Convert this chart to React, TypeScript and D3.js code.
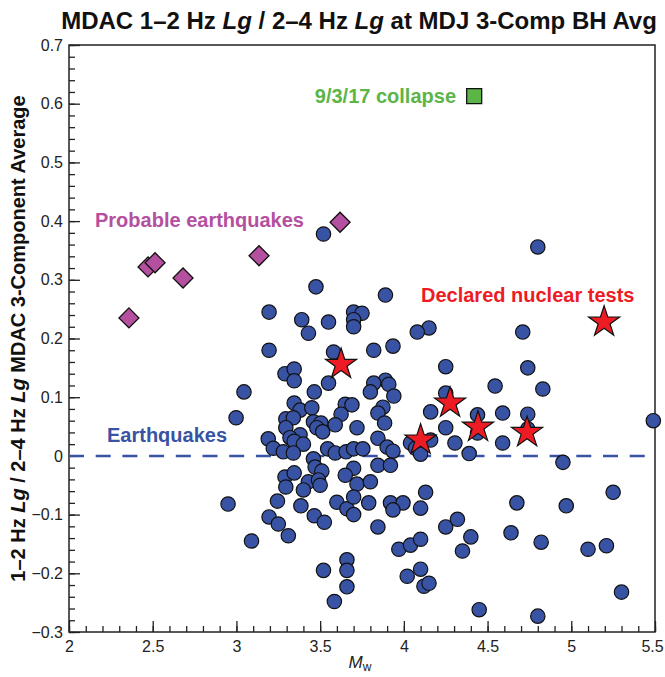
import React, { useEffect, useRef } from 'react';
import * as d3 from 'd3';

// [Mw, 1-2 Hz Lg / 2-4 Hz Lg ratio]
const earthquakes: [number, number][] = [
  [3.52, 0.378], [4.8, 0.356], [3.475, 0.288], [3.89, 0.274], [3.195, 0.245],
  [3.7, 0.245], [3.75, 0.243], [3.39, 0.232], [3.55, 0.228], [3.7, 0.232],
  [3.7, 0.22], [4.15, 0.218], [3.43, 0.209], [4.08, 0.211], [4.71, 0.211],
  [3.195, 0.18], [3.58, 0.177], [3.82, 0.18], [3.935, 0.187], [4.25, 0.152],
  [4.74, 0.15], [3.29, 0.14], [3.345, 0.148], [3.345, 0.128], [3.55, 0.124],
  [3.465, 0.109], [3.045, 0.109], [4.545, 0.119], [4.83, 0.114], [3.89, 0.129],
  [3.82, 0.124], [3.91, 0.122], [3.8, 0.109], [3.94, 0.102], [4.25, 0.107],
  [3.345, 0.09], [3.38, 0.078], [3.45, 0.082], [3.65, 0.088], [3.69, 0.087],
  [3.625, 0.071], [3.875, 0.083], [3.845, 0.073], [4.16, 0.075], [4.44, 0.07],
  [4.59, 0.073], [4.74, 0.071], [2.998, 0.065], [3.295, 0.063], [3.34, 0.065],
  [3.295, 0.048], [3.46, 0.058], [3.505, 0.056], [3.48, 0.048], [3.515, 0.041],
  [3.59, 0.053], [3.72, 0.048], [3.885, 0.056], [4.25, 0.048], [4.74, 0.046],
  [4.44, 0.039], [5.49, 0.06], [3.38, 0.036], [3.32, 0.031], [3.345, 0.025],
  [3.4, 0.02], [3.19, 0.029], [3.22, 0.013], [3.28, 0.007], [3.34, 0.005],
  [3.46, -0.005], [3.545, 0.012], [3.59, 0.005], [3.655, 0.007], [3.7, 0.012],
  [3.755, 0.012], [3.845, 0.03], [3.9, 0.015], [3.935, 0.008], [4.04, 0.022],
  [4.07, 0.013], [4.1, 0.003], [4.16, 0.027], [4.305, 0.022], [4.39, 0.004],
  [4.59, 0.022], [4.95, -0.011], [3.47, -0.019], [3.51, -0.026], [3.7, -0.021],
  [3.845, -0.016], [3.92, -0.016], [3.65, -0.033], [3.29, -0.036], [3.345, -0.029],
  [3.43, -0.044], [3.49, -0.041], [3.5, -0.05], [3.295, -0.053], [3.4, -0.058],
  [3.72, -0.048], [3.8, -0.044], [3.245, -0.077], [3.385, -0.085], [3.6, -0.079],
  [3.66, -0.09], [3.7, -0.07], [3.7, -0.1], [3.79, -0.08], [3.92, -0.08],
  [3.995, -0.08], [3.935, -0.092], [4.13, -0.062], [4.1, -0.089], [4.675, -0.08],
  [4.97, -0.085], [5.25, -0.062], [2.95, -0.082], [3.09, -0.145], [3.195, -0.104],
  [3.25, -0.116], [3.31, -0.136], [3.465, -0.102], [3.525, -0.113], [3.845, -0.121],
  [4.25, -0.121], [4.32, -0.108], [4.4, -0.138], [4.35, -0.162], [4.64, -0.131],
  [4.82, -0.147], [5.1, -0.159], [5.21, -0.153], [3.97, -0.159], [4.04, -0.152],
  [4.1, -0.142], [4.02, -0.205], [4.1, -0.193], [4.12, -0.222], [4.15, -0.217],
  [3.52, -0.195], [3.66, -0.177], [3.66, -0.195], [3.66, -0.223], [3.585, -0.248],
  [5.3, -0.232], [4.45, -0.262], [4.8, -0.273]
];

const probableEarthquakes: [number, number][] = [
  [2.358, 0.235], [2.472, 0.322], [2.514, 0.329], [2.681, 0.303], [3.135, 0.341], [3.619, 0.398]
];

const nuclearTests: [number, number][] = [
  [3.625, 0.156], [4.1, 0.027], [4.276, 0.09], [4.443, 0.049], [4.736, 0.04], [5.196, 0.228]
];

const collapse: [number, number][] = [[4.42, 0.613]];

const xTicks = [2, 2.5, 3, 3.5, 4, 4.5, 5, 5.5];
const yTicks = [0.7, 0.6, 0.5, 0.4, 0.3, 0.2, 0.1, 0, -0.1, -0.2, -0.3];

const titleParts: [string, boolean][] = [
  ['MDAC 1\u20132 Hz ', false], ['Lg', true], [' / 2\u20134 Hz ', false], ['Lg', true], [' at MDJ 3-Comp BH Avg', false]
];
const yLabelParts: [string, boolean][] = [
  ['1\u20132 Hz ', false], ['Lg', true], [' / 2\u20134 Hz ', false], ['Lg', true], [' MDAC 3-Component Average', false]
];

const W = 665;
const H = 677;
const margin = { top: 45, right: 10, bottom: 45, left: 69 };
const FONT = "'Liberation Sans', Arial, Helvetica, sans-serif";

const BLUE = '#3953a4';
const MAGENTA = '#b4509f';
const RED = '#ed1c24';
const GREEN = '#5cb547';

function addParts(sel: any, parts: [string, boolean][]) {
  parts.forEach(([t, it]) => {
    sel.append('tspan').attr('font-style', it ? 'italic' : null).text(t);
  });
}

export default function App() {
  const ref = useRef<SVGSVGElement>(null);

  useEffect(() => {
    const svg = d3.select(ref.current);
    svg.selectAll('*').remove();

    const x = d3.scaleLinear().domain([2, 5.5]).range([margin.left, W - margin.right]);
    const y = d3.scaleLinear().domain([-0.3, 0.7]).range([H - margin.bottom, margin.top]);
    const fmt = d3.format('~g');
    const label = (d: number) => fmt(d).replace('-', '\u2212');

    // title
    const title = svg.append('text')
      .attr('x', 359).attr('y', 29)
      .attr('text-anchor', 'middle')
      .attr('font-family', FONT).attr('font-weight', 'bold').attr('font-size', 24)
      .attr('fill', '#111');
    addParts(title, titleParts);

    // y label
    const yl = svg.append('text')
      .attr('transform', `translate(25,${(margin.top + H - margin.bottom) / 2}) rotate(-90)`)
      .attr('text-anchor', 'middle')
      .attr('font-family', FONT).attr('font-weight', 'bold').attr('font-size', 20)
      .attr('fill', '#111');
    addParts(yl, yLabelParts);

    // x label
    const xl = svg.append('text')
      .attr('x', 360).attr('y', 668)
      .attr('text-anchor', 'middle')
      .attr('font-family', FONT).attr('font-size', 17).attr('fill', '#222');
    xl.append('tspan').attr('font-style', 'italic').text('M');
    xl.append('tspan').attr('font-size', 12).attr('dy', 3).text('w');

    // axes: minor ticks
    const xMinor = d3.range(20, 56).map(d => d / 10);
    const yMinor = d3.range(-15, 36).map(d => d / 50);
    const gxMinor = svg.append('g')
      .attr('transform', `translate(0,${H - margin.bottom})`)
      .call(d3.axisBottom(x).tickValues(xMinor).tickSize(-6).tickFormat(() => ''));
    const gyMinor = svg.append('g')
      .attr('transform', `translate(${margin.left},0)`)
      .call(d3.axisLeft(y).tickValues(yMinor).tickSize(-6).tickFormat(() => ''));

    const gx = svg.append('g')
      .attr('transform', `translate(0,${H - margin.bottom})`)
      .call(d3.axisBottom(x).tickValues(xTicks).tickSize(-11).tickPadding(9).tickFormat(label as any));
    const gy = svg.append('g')
      .attr('transform', `translate(${margin.left},0)`)
      .call(d3.axisLeft(y).tickValues(yTicks).tickSize(-11).tickPadding(6).tickFormat(label as any));

    [gxMinor, gyMinor, gx, gy].forEach(g => {
      g.select('.domain').remove();
      g.selectAll('line').attr('stroke', '#222').attr('stroke-width', 1.3);
      g.selectAll('text').attr('font-family', FONT).attr('font-size', 16).attr('fill', '#222');
    });
    // keep the last x label inside the page
    gx.selectAll('text').filter((d: any) => d === 5.5).attr('dx', -3);

    // frame
    svg.append('rect')
      .attr('x', margin.left).attr('y', margin.top)
      .attr('width', W - margin.left - margin.right)
      .attr('height', H - margin.top - margin.bottom)
      .attr('fill', 'none').attr('stroke', '#222').attr('stroke-width', 1.5);

    // zero line
    svg.append('line')
      .attr('x1', x(2)).attr('x2', x(5.5))
      .attr('y1', y(0)).attr('y2', y(0))
      .attr('stroke', BLUE).attr('stroke-width', 2.5)
      .attr('stroke-dasharray', '15,11.7');

    // earthquakes
    svg.append('g').selectAll('circle')
      .data(earthquakes)
      .enter()
      .append('circle')
      .attr('cx', d => x(d[0]))
      .attr('cy', d => y(d[1]))
      .attr('r', 7.2)
      .attr('fill', BLUE)
      .attr('stroke', '#111')
      .attr('stroke-width', 1.2);

    // probable earthquakes
    svg.append('g').selectAll('path')
      .data(probableEarthquakes)
      .enter()
      .append('path')
      .attr('d', d3.symbol(d3.symbolSquare, 200)() as string)
      .attr('transform', d => `translate(${x(d[0])},${y(d[1])}) rotate(45)`)
      .attr('fill', MAGENTA)
      .attr('stroke', '#111')
      .attr('stroke-width', 1.3);

    // nuclear tests
    svg.append('g').selectAll('path')
      .data(nuclearTests)
      .enter()
      .append('path')
      .attr('d', d3.symbol(d3.symbolStar, 300)() as string)
      .attr('transform', d => `translate(${x(d[0])},${y(d[1])})`)
      .attr('fill', RED)
      .attr('stroke', '#111')
      .attr('stroke-width', 1.2);

    // collapse
    svg.append('g').selectAll('path')
      .data(collapse)
      .enter()
      .append('path')
      .attr('d', d3.symbol(d3.symbolSquare, 225)() as string)
      .attr('transform', d => `translate(${x(d[0])},${y(d[1])})`)
      .attr('fill', GREEN)
      .attr('stroke', '#111')
      .attr('stroke-width', 1.3);

    // annotations
    const note = (tx: number, ty: number, text: string, color: string, anchor: string) =>
      svg.append('text')
        .attr('x', tx).attr('y', ty)
        .attr('text-anchor', anchor)
        .attr('font-family', FONT).attr('font-weight', 'bold').attr('font-size', 20)
        .attr('fill', color)
        .text(text);

    note(456, 103, '9/3/17 collapse', GREEN, 'end');
    note(95, 227, 'Probable earthquakes', MAGENTA, 'start');
    note(421, 302, 'Declared nuclear tests', RED, 'start');
    note(107, 442, 'Earthquakes', BLUE, 'start');
  }, []);

  return (
    <svg
      ref={ref}
      width={W}
      height={H}
      style={{ position: 'absolute', left: 0, top: 0, background: '#fff' }}
    />
  );
}
